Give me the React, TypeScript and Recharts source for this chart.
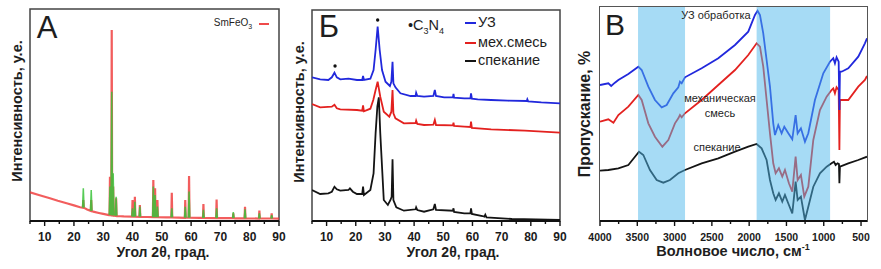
import { LineChart, Line, XAxis, YAxis, ReferenceArea, ReferenceDot } from 'recharts'

const FONT = '"Liberation Sans", Arial, Helvetica, sans-serif'

// ---- A: SmFeO3 ----
const aBackground: [number, number][] = [
  [5, 15.0], [8, 13.6], [11.8, 11.9], [14.5, 10.6], [17.5, 9.3], [20, 8.2], [22.1, 7.2],
  [24.5, 6.0], [26.6, 4.9], [28.5, 4.2], [30, 3.7], [32, 3.1], [34.7, 2.6], [37, 2.4],
  [40.3, 2.3], [45, 2.1], [51.6, 1.9], [63, 1.6], [75, 1.4], [90, 1.2],
]
const aPeakPos = [23.2, 25.9, 32.3, 32.9, 33.4, 34.4, 40.0, 40.8, 42.5, 47.1, 47.7, 48.5, 53.4, 58.0, 59.3, 64.2, 68.7, 74.4, 78.4, 83.3, 87.5]
const aPeakRed = [11.0, 11.0, 23.2, 100, 18.0, 11.9, 11.0, 12.7, 8.4, 21.5, 17.1, 11.0, 14.8, 11.0, 23.6, 8.9, 11.3, 4.0, 7.5, 5.4, 4.0]
const aPeakGreen = [17.1, 16.2, 18.0, 67.7, 25.0, 12.7, 6.6, 10.1, 7.5, 18.0, 13.6, 7.5, 6.6, 7.5, 15.4, 5.8, 6.6, 4.7, 6.1, 4.0, 3.1]
const aPeakBase = [7.0, 5.3, 3.1, 3.0, 2.9, 2.7, 2.3, 2.3, 2.2, 2.0, 2.0, 2.0, 1.9, 1.7, 1.7, 1.6, 1.5, 1.5, 1.4, 1.3, 1.3]

// ---- Б: composites ----
const bUz: [number, number][] = [
  [5.0, 143.7], [7.8, 141.7], [10.6, 141], [11.8, 143.7], [12.7, 148.3], [13.5, 143.7], [14.7, 141.7],
  [17.5, 142.3], [20.4, 141], [22.2, 141], [22.5, 145], [22.8, 141], [25.0, 142.3], [26.1, 151],
  [26.8, 171], [27.5, 194.3], [28.2, 171], [29.0, 151], [30.2, 139.3], [31.7, 135], [32.2, 139.3],
  [32.6, 159.3], [32.9, 137.7], [33.6, 133.7], [35.3, 127.7], [38.8, 125], [40.5, 125], [40.7, 128.3],
  [41.1, 125], [43.4, 124.3], [46.6, 125], [47.1, 131], [47.5, 125], [50.3, 123.7], [53.3, 123.7],
  [53.5, 127], [53.7, 123.3], [57.2, 122.7], [59.3, 122.7], [59.5, 127.7], [59.8, 122.3], [61.8, 121.7],
  [66.4, 121], [72.1, 120.3], [78.6, 120], [78.8, 121.7], [79.1, 119.7], [83.6, 118.7], [90.0, 117.7],
]
const bMix: [number, number][] = [
  [5.0, 117], [7.8, 113.7], [11.8, 114.3], [12.7, 116.3], [13.5, 112.7], [14.7, 111.7], [20.4, 111],
  [22.2, 110.3], [22.5, 115.7], [22.8, 109.7], [25.0, 112.3], [26.0, 121], [26.8, 131], [27.5, 139.3],
  [28.4, 124.3], [29.6, 109.3], [31.5, 104.3], [32.2, 109.3], [32.6, 131], [32.9, 107.7], [33.6, 102.7],
  [36.5, 97.7], [40.5, 98], [40.7, 100.3], [41.1, 97], [43.4, 96], [46.6, 96.3], [47.1, 101], [47.5, 96],
  [53.3, 95.7], [53.5, 98.3], [53.7, 95], [57.2, 94.3], [59.3, 94], [59.5, 99.3], [59.8, 93],
  [66.4, 91.7], [78.0, 90.3], [90.0, 88.3],
]
const bSint: [number, number][] = [
  [5.0, 31], [7.8, 27], [10.6, 27.7], [11.8, 29.3], [12.7, 34.3], [13.5, 31.7], [14.7, 30.3], [17.5, 31],
  [18.0, 32.7], [19.0, 29.3], [20.4, 27], [22.2, 27], [22.5, 34.3], [22.8, 26], [25.0, 31], [26.1, 47.7],
  [26.8, 87.7], [27.4, 114.3], [27.9, 123.7], [28.4, 87.7], [28.7, 71], [29.6, 21], [31.0, 16], [31.9, 21],
  [32.3, 24.3], [32.6, 61.7], [32.9, 21], [33.9, 13.7], [36.5, 10.3], [40.5, 11.7], [40.7, 13.7], [41.1, 11],
  [43.4, 9.3], [46.6, 11.7], [47.1, 17], [47.5, 11], [53.3, 10.3], [53.5, 12.7], [53.7, 9], [57.2, 7.7],
  [59.3, 7.7], [59.5, 12.7], [59.8, 7], [63.4, 5], [64.1, 4.3], [64.4, 6.3], [64.8, 3.7], [73.5, 2], [90.0, 1],
]
const bStars: [number, number][] = [[12.9, 155], [27.5, 201]]

// ---- В: FTIR ----
const cUz: [number, number][] = [
  [4000, 136], [3888, 137.7], [3850, 135], [3800, 138.3], [3754, 141], [3620, 147], [3486, 154.3], [3441, 151],
  [3352, 134.3], [3263, 121], [3173, 113.7], [3106, 116], [3017, 127.7], [2950, 133.7], [2928, 139.3],
  [2905, 137.7], [2861, 143.7], [2637, 152.7], [2414, 162.7], [2190, 176], [2012, 189.3], [1922, 206],
  [1887, 210.3], [1855, 206], [1811, 187.7], [1766, 161], [1721, 134.3], [1677, 97.7], [1654, 86], [1610, 96],
  [1565, 87.7], [1529, 94.3], [1475, 87.7], [1422, 81.7], [1377, 106], [1350, 87.7], [1306, 92.7],
  [1252, 79.3], [1207, 87.7], [1118, 121], [1006, 147.7], [917, 159.3], [872, 162.7], [850, 157.7],
  [828, 163.7], [800, 159.3], [790, 111], [783, 149.3], [760, 149.3], [671, 152.7], [537, 164.3],
  [448, 177.7], [420, 182.7],
]
const cMix: [number, number][] = [
  [4000, 99.3], [3888, 101.7], [3820, 98.3], [3754, 106], [3620, 114.3], [3486, 126], [3441, 121],
  [3352, 97.7], [3263, 84.3], [3164, 74.3], [3084, 81], [2995, 97.7], [2950, 102.7], [2928, 106],
  [2905, 103.7], [2861, 107.7], [2637, 121], [2414, 136], [2190, 151], [2012, 166], [1900, 177.7],
  [1855, 174.3], [1811, 154.3], [1766, 121], [1721, 87.7], [1677, 57.7], [1645, 47.7], [1601, 52.7],
  [1556, 44.3], [1520, 51], [1467, 37.7], [1422, 29.3], [1377, 64.3], [1350, 41], [1306, 46], [1261, 24.3],
  [1207, 34.3], [1140, 81], [1051, 111], [961, 124.3], [895, 131], [872, 132.7], [850, 127.7], [828, 133.7],
  [800, 131], [790, 71], [783, 121], [760, 121], [671, 121], [537, 134.3], [448, 141], [420, 145],
]
const cSint: [number, number][] = [
  [4000, 50.3], [3888, 51], [3754, 52.7], [3620, 56], [3531, 64.3], [3477, 69.3], [3419, 66], [3330, 51],
  [3240, 41], [3151, 38.3], [3062, 41], [2950, 47.7], [2861, 51], [2637, 57.7], [2414, 62.7], [2190, 69.3],
  [2012, 74.3], [1900, 77], [1833, 72.7], [1766, 61], [1721, 41], [1677, 27.7], [1645, 21], [1601, 27.7],
  [1556, 19.3], [1520, 26], [1467, 16], [1422, 7.7], [1377, 39.3], [1350, 21], [1306, 24.3], [1252, 1],
  [1207, 14.3], [1140, 34.3], [1051, 47.7], [961, 54.3], [895, 57.7], [863, 59.3], [841, 56], [814, 57.7],
  [796, 57], [790, 37.7], [783, 54.3], [671, 57.7], [537, 61], [420, 64.3],
]
const cBands: [number, number][] = [[3490, 2860], [1900, 915]]

const xrdTicks = [5, 10, 15, 20, 25, 30, 35, 40, 45, 50, 55, 60, 65, 70, 75, 80, 85, 90]
const irTicks = [4000, 3750, 3500, 3250, 3000, 2750, 2500, 2250, 2000, 1750, 1500, 1250, 1000, 750, 500]

const rows = (pts: [number, number][]) => pts.map(([t, v]) => ({ t, v }))

function redPattern() {
  const out: { t: number; v: number | null }[] = rows(aBackground)
  aPeakPos.forEach((p, i) => {
    out.push({ t: p - 0.15, v: aPeakBase[i] }, { t: p, v: aPeakRed[i] }, { t: p + 0.15, v: aPeakBase[i] })
  })
  return out.sort((a, b) => a.t - b.t)
}

function greenPattern() {
  const out: { t: number; v: number | null }[] = []
  aPeakPos.forEach((p, i) => {
    out.push({ t: p - 0.25, v: aPeakBase[i] }, { t: p, v: aPeakGreen[i] }, { t: p + 0.25, v: aPeakBase[i] }, { t: p + 0.26, v: null })
  })
  return out
}

function AxisTick(props: any) {
  const { x, y, payload, major, size } = props
  const isMajor = payload.value % major === 0
  return (
    <g>
      <line x1={x} x2={x} y1={y} y2={y + (isMajor ? 5 : 3)} stroke="#111" strokeWidth={1.4} />
      {isMajor && (
        <text x={x} y={y + 20} textAnchor="middle" fontSize={size} fontWeight="bold" fill="#1b1b1b" fontFamily={FONT}>
          {payload.value}
        </text>
      )}
    </g>
  )
}

function Txt({ x, y, size, bold, rotate, children }: any) {
  return (
    <div
      style={{
        position: 'absolute', left: x, top: y, lineHeight: 1, whiteSpace: 'nowrap',
        transform: `translate(-50%, -50%)${rotate ? ' rotate(-90deg)' : ''}`,
        fontSize: size, fontWeight: bold ? 'bold' : 'normal', color: '#1e1e1e',
      }}
    >
      {children}
    </div>
  )
}

const frame = { fill: 'none', stroke: '#444', strokeWidth: 1.5 }

export default function App() {
  return (
    <div style={{ position: 'absolute', left: 0, top: 0, width: 881, height: 269, background: '#fff', fontFamily: FONT, overflow: 'hidden' }}>
      {/* A */}
      <div style={{ position: 'absolute', left: 0, top: 0 }}>
        <LineChart width={290} height={269} margin={{ top: 9, right: 11, bottom: 18, left: 30 }}>
          <XAxis dataKey="t" type="number" domain={[5, 90]} ticks={xrdTicks} interval={0} height={30}
            tickSize={0} tickMargin={0} tickLine={false} axisLine={{ stroke: '#111', strokeWidth: 2 }}
            tick={<AxisTick major={10} size={12} />} allowDataOverflow />
          <YAxis hide domain={[0, 111]} allowDataOverflow />
          <ReferenceArea x1={5} x2={90} y1={0} y2={111} {...frame} />
          <Line data={redPattern()} dataKey="v" type="linear" stroke="#ef3434" strokeOpacity={0.8} strokeWidth={2.2} dot={false} isAnimationActive={false} />
          <Line data={greenPattern()} dataKey="v" type="linear" stroke="#39c239" strokeOpacity={0.85} strokeWidth={1.5} dot={false} isAnimationActive={false} />
        </LineChart>
      </div>
      <Txt x={47} y={27} size={31}>A</Txt>
      <Txt x={233} y={24} size={10}>SmFeO<sub style={{ fontSize: 7 }}>3</sub></Txt>
      <div style={{ position: 'absolute', left: 259, top: 23, width: 10, height: 1.5, background: '#ef4a4a' }} />
      <Txt x={17} y={111} size={14.5} bold rotate>Интенсивность, у.е.</Txt>
      <Txt x={163} y={252} size={14} bold>Угол 2θ, град.</Txt>

      {/* Б */}
      <div style={{ position: 'absolute', left: 290, top: 0 }}>
        <LineChart width={290} height={269} margin={{ top: 10, right: 20, bottom: 18, left: 22 }}>
          <XAxis dataKey="t" type="number" domain={[5, 90]} ticks={xrdTicks} interval={0} height={30}
            tickSize={0} tickMargin={0} tickLine={false} axisLine={{ stroke: '#111', strokeWidth: 2 }}
            tick={<AxisTick major={10} size={12} />} allowDataOverflow />
          <YAxis hide domain={[0, 211]} allowDataOverflow />
          <ReferenceArea x1={5} x2={90} y1={0} y2={211} {...frame} />
          <Line data={rows(bSint)} dataKey="v" type="linear" stroke="#141414" strokeWidth={1.8} dot={false} isAnimationActive={false} />
          <Line data={rows(bMix)} dataKey="v" type="linear" stroke="#e3211f" strokeWidth={1.8} dot={false} isAnimationActive={false} />
          <Line data={rows(bUz)} dataKey="v" type="linear" stroke="#2128dc" strokeWidth={1.8} dot={false} isAnimationActive={false} />
          {bStars.map(([t, v]) => (
            <ReferenceDot key={t} x={t} y={v} r={1.7} fill="#111" stroke="none" />
          ))}
        </LineChart>
      </div>
      <Txt x={329} y={26} size={31}>Б</Txt>
      <div style={{ position: 'absolute', left: 408, top: 18, fontSize: 14.5, lineHeight: 1, color: '#1e1e1e' }}>
        •C<sub style={{ fontSize: 9 }}>3</sub>N<sub style={{ fontSize: 9 }}>4</sub>
      </div>
      {[['УЗ', '#2128dc', 23], ['мех.смесь', '#e3211f', 43], ['спекание', '#141414', 61]].map(([name, color, y]) => (
        <div key={name as string}>
          <div style={{ position: 'absolute', left: 465, top: (y as number) - 1, width: 11, height: 2, background: color as string }} />
          <div style={{ position: 'absolute', left: 478, top: (y as number) - 8, fontSize: 14.5, lineHeight: 1, color: '#1e1e1e' }}>{name}</div>
        </div>
      ))}
      <Txt x={299} y={112} size={14.5} bold rotate>Интенсивность, у.е.</Txt>
      <Txt x={453} y={252} size={14} bold>Угол 2θ, град.</Txt>

      {/* В */}
      <div style={{ position: 'absolute', left: 575, top: 0 }}>
        <LineChart width={306} height={269} margin={{ top: 7, right: 14, bottom: 18, left: 25 }}>
          <XAxis dataKey="t" type="number" domain={[420, 4000]} reversed ticks={irTicks} interval={0} height={30}
            tickSize={0} tickMargin={0} tickLine={false} axisLine={{ stroke: '#111', strokeWidth: 2 }}
            tick={<AxisTick major={500} size={10.5} />} allowDataOverflow />
          <YAxis hide domain={[0, 214]} allowDataOverflow />
          <Line data={rows(cSint)} dataKey="v" type="linear" stroke="#141414" strokeWidth={1.8} dot={false} isAnimationActive={false} />
          <Line data={rows(cMix)} dataKey="v" type="linear" stroke="#e3211f" strokeWidth={1.8} dot={false} isAnimationActive={false} />
          <Line data={rows(cUz)} dataKey="v" type="linear" stroke="#2128dc" strokeWidth={1.8} dot={false} isAnimationActive={false} />
          {cBands.map(([a, b]) => (
            <ReferenceArea key={a} x1={a} x2={b} y1={0} y2={214} fill="#4db8eb" fillOpacity={0.5} stroke="none" zIndex={450} />
          ))}
        </LineChart>
      </div>
      <div style={{ position: 'absolute', left: 599, top: 6, width: 269, height: 216, boxSizing: 'border-box', border: '1.5px solid #555', borderBottom: '0', pointerEvents: 'none', zIndex: 5 }} />
      <Txt x={615} y={25} size={30}>В</Txt>
      <Txt x={716} y={15} size={11}>УЗ обработка</Txt>
      <Txt x={720} y={98} size={11}>механическая</Txt>
      <Txt x={720} y={113} size={11}>смесь</Txt>
      <Txt x={717} y={147} size={11}>спекание</Txt>
      <Txt x={585} y={114} size={16} bold rotate>Пропускание, %</Txt>
      <Txt x={733} y={251} size={14.5} bold>Волновое число, см<sup style={{ fontSize: 9 }}>-1</sup></Txt>
    </div>
  )
}
